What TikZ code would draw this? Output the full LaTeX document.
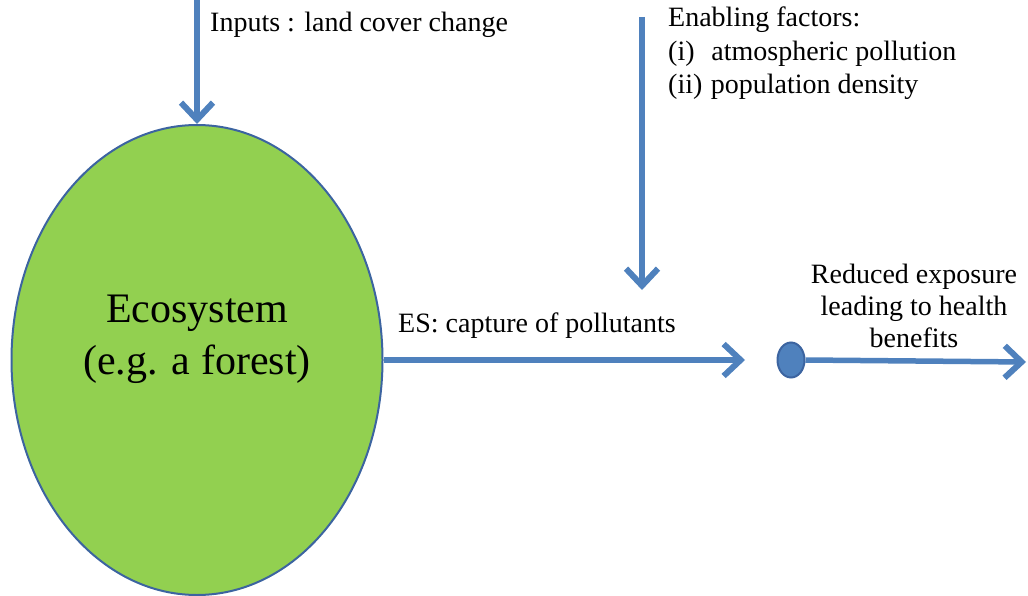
\documentclass[tikz,border=0pt]{standalone}
\usepackage{fontspec}
\setmainfont{Liberation Serif}
\usetikzlibrary{arrows.meta,shapes.geometric}
\definecolor{arrowblue}{RGB}{79,129,189}
\definecolor{edgeblue}{RGB}{60,100,160}
\definecolor{leafgreen}{RGB}{146,208,80}
\tikzset{
  flow/.style={draw=arrowblue, line width=5.5pt, -{Straight Barb[length=17pt,width=32pt,line width=6pt]}},
  lbl/.style={font=\fontsize{28}{33.5}\selectfont, inner sep=0pt, text=black},
}
\begin{document}
\begin{tikzpicture}[x=1pt,y=-1pt]
\useasboundingbox (0,0) rectangle (1028,596);
\node[ellipse, draw=edgeblue, line width=2pt, fill=leafgreen, minimum width=371pt, minimum height=470pt, inner sep=0pt] (eco) at (197,360) {};
\node[font=\fontsize{42}{52}\selectfont, align=center, inner sep=0pt, anchor=base] (ecotxt) at (197,374) {Ecosystem\\(e.g. a forest)};
\node[ellipse, draw=edgeblue, line width=2pt, fill=arrowblue, minimum width=27pt, minimum height=35pt, inner sep=0pt] (dot) at (791,360) {};
\coordinate (in1) at (197,0);
\coordinate (in2) at (642,17);
\coordinate (in2end) at (642,290);
\coordinate (esend) at (745,360);
\coordinate (outend) at (1026,362);
\draw[flow] (in1) -- (eco.north);
\draw[flow] (in2) -- (in2end);
\draw[flow] (eco.east) -- (esend);
\draw[flow] (dot.east) -- (outend);
\node[lbl, anchor=base west] (inputs) at (210,32) {Inputs : land cover change};
\node[lbl, anchor=base west, align=left] (enab) at (668,94) {Enabling factors:\\(i)\hspace{0.6em}atmospheric pollution\\(ii)\hspace{0.3em}population density};
\node[lbl, anchor=base west] (es) at (398,332) {ES: capture of pollutants};
\node[lbl, anchor=base, align=center, font=\fontsize{28}{32}\selectfont] (red) at (914,347) {Reduced exposure\\leading to health\\benefits};
\end{tikzpicture}
\end{document}
